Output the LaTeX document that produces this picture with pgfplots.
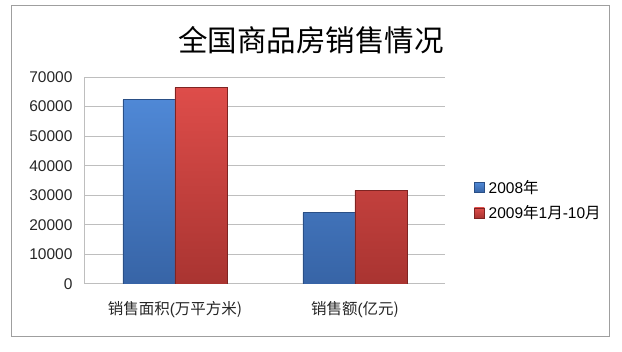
\documentclass[border=0pt]{standalone}
\usepackage{pgfplots}
\pgfplotsset{compat=1.18}
\usepackage{fontspec}
\setmainfont{Liberation Sans}
\newfontfamily\cjk{Noto Sans CJK SC}
\definecolor{bluetop}{HTML}{4F88D6}
\definecolor{bluebot}{HTML}{3764A6}
\definecolor{blueedge}{HTML}{2A4F86}
\definecolor{redtop}{HTML}{DE4D4A}
\definecolor{redbot}{HTML}{A93431}
\definecolor{rededge}{HTML}{7E2422}
\definecolor{gridgray}{HTML}{BEBEBE}
\begin{document}
\begin{tikzpicture}[x=1pt,y=1pt]
\path[use as bounding box] (0,0) rectangle (622,352);
\draw[color=gray!75, line width=1pt] (11.5,15.5) rectangle (609.5,346);
\node[font=\cjk\fontsize{29.5}{32}\selectfont] at (311,312) {全国商品房销售情况};
\begin{axis}[
  at={(85pt,68pt)}, anchor=south west,
  scale only axis, width=360pt, height=207pt,
  ybar=0pt, bar width=52pt,
  xmin=-0.5, xmax=1.5, ymin=0, ymax=70000,
  xtick={0,1},
  xticklabels={{\cjk 销售面积}(\cjk 万平方米),{\cjk 销售额}(\cjk 亿元)},
  ytick={0,10000,...,70000},
  scaled y ticks=false,
  yticklabel style={/pgf/number format/fixed,/pgf/number format/1000 sep={}},
  /pgf/number format/assume math mode=true,
  ticklabel style={font=\fontsize{15.5}{17}\selectfont, text=black!85},
  xticklabel style={yshift=-10pt},
  yticklabel style={xshift=-9pt},
  axis x line*=bottom, axis y line*=left,
  axis line style={gridgray, line width=1pt},
  tick style={draw=none},
  ymajorgrids, grid style={gridgray, line width=1pt},
  legend style={at={(1.072,0.405)}, anchor=west, draw=none, fill=none,
    font=\fontsize{15.5}{17}\selectfont, row sep=7pt,
    legend cell align=left},
  legend image code/.code={\draw[#1] (0pt,-5pt) rectangle (10pt,5pt); \path (12pt,0pt);},
]
\addplot[draw=blueedge, top color=bluetop, bottom color=bluebot, line width=0.6pt]
  coordinates {(0,62300) (1,24100)};
\addplot[draw=rededge, top color=redtop, bottom color=redbot, line width=0.6pt]
  coordinates {(0,66400) (1,31700)};
\legend{2008{\cjk 年}, 2009{\cjk 年}1{\cjk 月}-10{\cjk 月}}
\end{axis}
\end{tikzpicture}
\end{document}
